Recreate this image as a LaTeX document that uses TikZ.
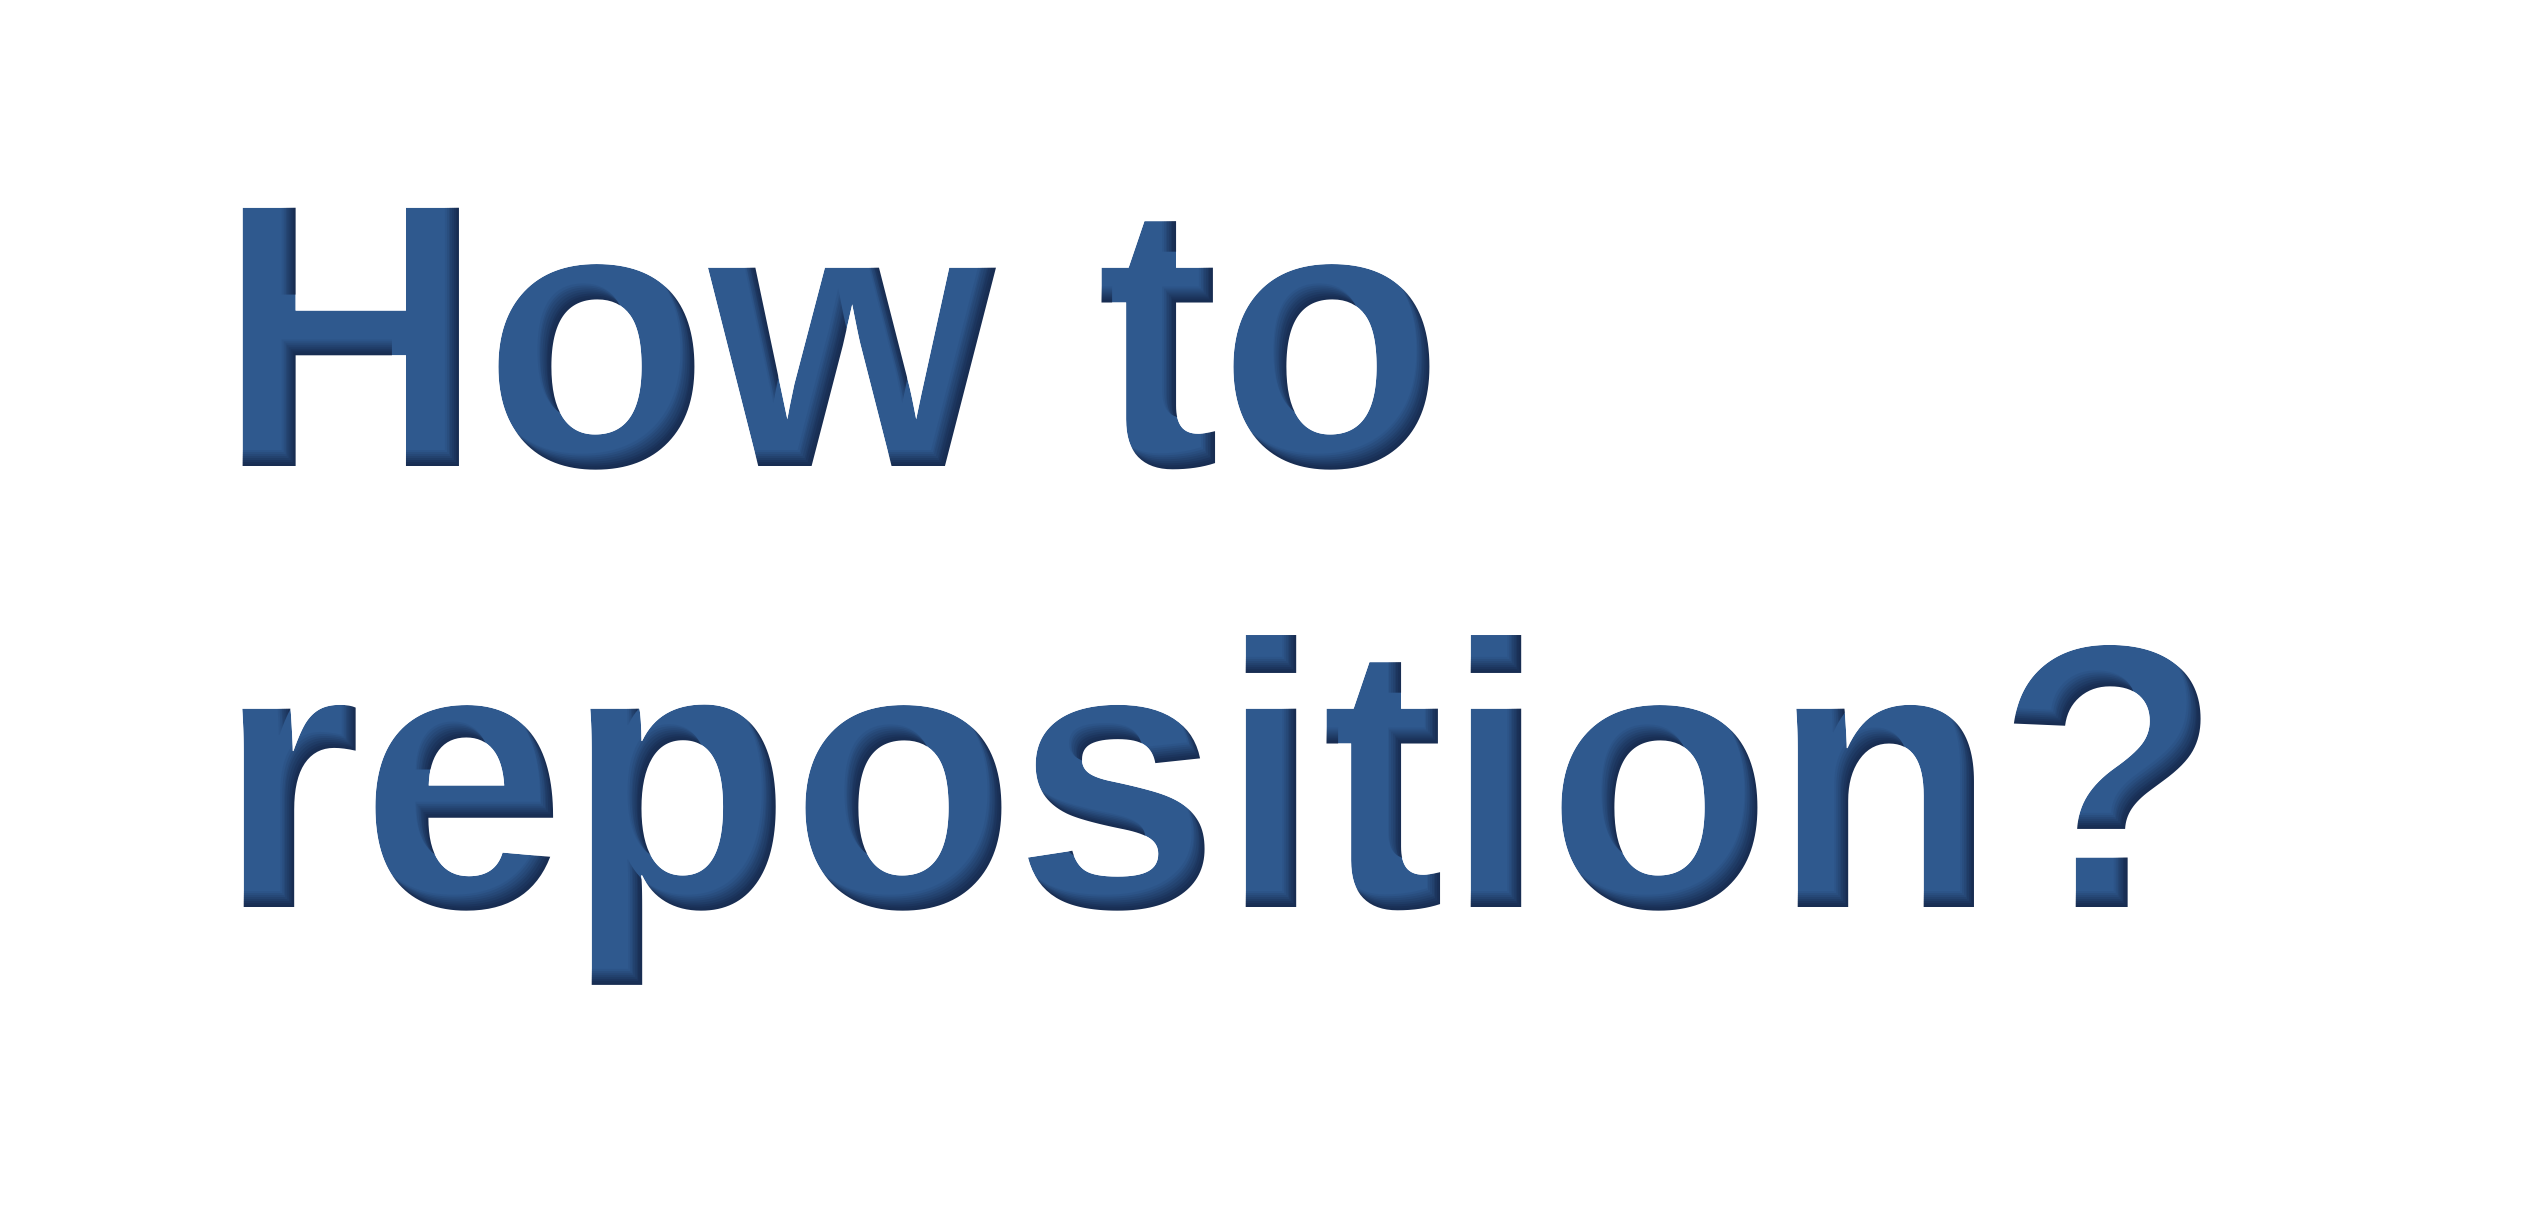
\documentclass[tikz,border=0pt]{standalone}
\usepackage{fontspec}
\setmainfont{Liberation Sans}
\usetikzlibrary{fadings}
\definecolor{mainblue}{HTML}{2F598E}
\definecolor{darkblue}{HTML}{182D52}
\tikzset{
  txt/.style={font=\fontsize{92pt}{110pt}\selectfont\bfseries, anchor=base west, inner sep=0pt, outer sep=0pt},
}
\newcommand{\lineA}{\scalebox{1}[1.02]{How to}}
\newcommand{\lineB}{\scalebox{1}[1.02]{reposition?}}
% glyph mask
\begin{tikzfadingfrompicture}[name=glyphfade, x=0.25pt, y=0.25pt]
  \path[use as bounding box] (-1269.5,-605.5) rectangle (1269.5,605.5);
  \node[txt, text=transparent!0] (g1) at (-1051,139) {\lineA};
  \node[txt, text=transparent!0] (g2) at (-1051,-301.5) {\lineB};
\end{tikzfadingfrompicture}
% complement of glyph mask
\begin{tikzfadingfrompicture}[name=outfade, x=0.25pt, y=0.25pt]
  \path[use as bounding box] (-1269.5,-605.5) rectangle (1269.5,605.5);
  \fill[transparent!0] (-1269.5,-605.5) rectangle (1269.5,605.5);
  \node[txt, text=transparent!100] (o1) at (-1051,139) {\lineA};
  \node[txt, text=transparent!100] (o2) at (-1051,-301.5) {\lineB};
\end{tikzfadingfrompicture}
% inner shadow mask: graded by offset glyph copies
\begin{tikzfadingfrompicture}[name=shadefade, x=0.25pt, y=0.25pt]
  \path[use as bounding box] (-1269.5,-605.5) rectangle (1269.5,605.5);
  \fill[transparent!0] (-1269.5,-605.5) rectangle (1269.5,605.5);
  \foreach \d/\t in {2/8, 4/20, 6/34, 8/48, 10/62, 12/76, 14/90, 16/100} {
    \node[txt, text=transparent!\t] (s1-\d) at (-1051-0.85*\d,139+\d) {\lineA};
    \node[txt, text=transparent!\t] (s2-\d) at (-1051-0.85*\d,-301.5+\d) {\lineB};
  }
\end{tikzfadingfrompicture}
\begin{document}
\begin{tikzpicture}[x=0.25pt, y=0.25pt]
  \fill[white] (-1269.5,-605.5) rectangle (1269.5,605.5);
  \useasboundingbox (-1269.5,-605.5) rectangle (1269.5,605.5);
  \fill[mainblue, path fading=glyphfade, fit fading=false] (-1269.5,-605.5) rectangle (1269.5,605.5);
  \fill[darkblue, path fading=shadefade, fit fading=false] (-1269.5,-605.5) rectangle (1269.5,605.5);
  \fill[white, path fading=outfade, fit fading=false] (-1269.5,-605.5) rectangle (1269.5,605.5);
\end{tikzpicture}
\end{document}
